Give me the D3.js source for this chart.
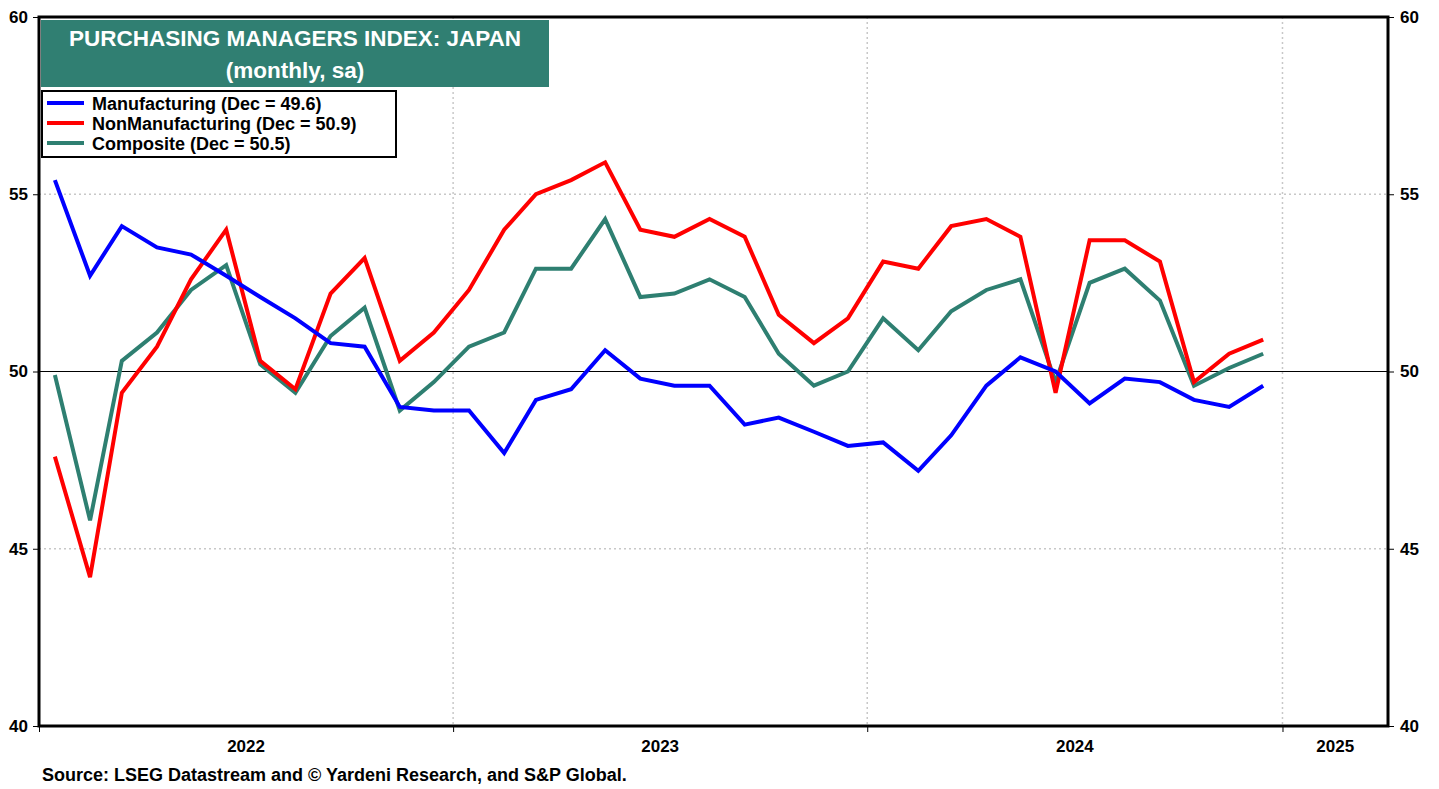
<!DOCTYPE html>
<html>
<head>
<meta charset="utf-8">
<script src="https://cdn.jsdelivr.net/npm/d3@7"></script>
<style>
  body { margin: 0; background: #fff; }
  svg { display: block; font-family: "Liberation Sans", Arial, sans-serif; font-weight: bold; }
</style>
</head>
<body>
<svg id="chart" width="1439" height="789"></svg>
<script>
// monthly, Jan 2022 .. Dec 2024
const startYear = 2022;
const manufacturing = [55.4, 52.7, 54.1, 53.5, 53.3, 52.7, 52.1, 51.5, 50.8, 50.7, 49.0, 48.9,
                       48.9, 47.7, 49.2, 49.5, 50.6, 49.8, 49.6, 49.6, 48.5, 48.7, 48.3, 47.9,
                       48.0, 47.2, 48.2, 49.6, 50.4, 50.0, 49.1, 49.8, 49.7, 49.2, 49.0, 49.6];
const nonManufacturing = [47.6, 44.2, 49.4, 50.7, 52.6, 54.0, 50.3, 49.5, 52.2, 53.2, 50.3, 51.1,
                          52.3, 54.0, 55.0, 55.4, 55.9, 54.0, 53.8, 54.3, 53.8, 51.6, 50.8, 51.5,
                          53.1, 52.9, 54.1, 54.3, 53.8, 49.4, 53.7, 53.7, 53.1, 49.7, 50.5, 50.9];
const composite = [49.9, 45.8, 50.3, 51.1, 52.3, 53.0, 50.2, 49.4, 51.0, 51.8, 48.9, 49.7,
                   50.7, 51.1, 52.9, 52.9, 54.3, 52.1, 52.2, 52.6, 52.1, 50.5, 49.6, 50.0,
                   51.5, 50.6, 51.7, 52.3, 52.6, 49.7, 52.5, 52.9, 52.0, 49.6, 50.1, 50.5];
const seriesNames = ["Manufacturing (Dec = 49.6)", "NonManufacturing (Dec = 50.9)", "Composite (Dec = 50.5)"];
const seriesColors = ["#0000ff", "#ff0000", "#2e7f71"];
const yTicks = [40, 45, 50, 55, 60];
const yearLabels = [2022, 2023, 2024, 2025];

const svg = d3.select("#chart");
const pLeft = 39, pRight = 1388, pTop = 17, pBottom = 726;

const x = d3.scaleTime()
  .domain([new Date(2022, 0, 1), new Date(2025, 3, 4)])
  .range([pLeft, pRight]);
const y = d3.scaleLinear().domain([40, 60]).range([pBottom, pTop]);

const dates = manufacturing.map((d, i) => new Date(startYear + Math.floor(i / 12), i % 12, 15));
const allSeries = [manufacturing, nonManufacturing, composite];

// grid
svg.append("g").selectAll("line")
  .data([45, 55])
  .enter().append("line")
  .attr("x1", pLeft).attr("x2", pRight)
  .attr("y1", d => y(d)).attr("y2", d => y(d))
  .attr("stroke", "#c8c8c8").attr("stroke-width", 1.5).attr("stroke-dasharray", "2,3");

svg.append("g").selectAll("line")
  .data([2023, 2024, 2025])
  .enter().append("line")
  .attr("x1", d => x(new Date(d, 0, 1))).attr("x2", d => x(new Date(d, 0, 1)))
  .attr("y1", pTop).attr("y2", pBottom)
  .attr("stroke", "#c8c8c8").attr("stroke-width", 1.5).attr("stroke-dasharray", "2,3");

// 50 line
svg.append("line")
  .attr("x1", pLeft).attr("x2", pRight)
  .attr("y1", y(50)).attr("y2", y(50))
  .attr("stroke", "#000").attr("stroke-width", 1);

// axes
const yLeft = svg.append("g")
  .attr("transform", `translate(${pLeft},0)`)
  .call(d3.axisLeft(y).tickValues(yTicks).tickSize(6).tickPadding(5));
const yRight = svg.append("g")
  .attr("transform", `translate(${pRight},0)`)
  .call(d3.axisRight(y).tickValues(yTicks).tickSize(6).tickPadding(6));
const xAxis = svg.append("g")
  .attr("transform", `translate(0,${pBottom})`)
  .call(d3.axisBottom(x).tickValues(yearLabels.map(d => new Date(d, 0, 1))).tickSize(6).tickFormat(""));

[yLeft, yRight, xAxis].forEach(g => {
  g.select(".domain").remove();
  g.selectAll(".tick line").attr("stroke", "#000").attr("stroke-width", 1);
  g.selectAll("text").attr("font-size", 17).attr("font-weight", "bold")
    .attr("font-family", "Liberation Sans, Arial, sans-serif").attr("fill", "#000");
});

// year labels centred in each year
svg.append("g").selectAll("text")
  .data(yearLabels)
  .enter().append("text")
  .attr("x", d => {
    const a = x(new Date(d, 0, 1));
    const b = Math.min(x(new Date(d + 1, 0, 1)), pRight);
    return (a + b) / 2;
  })
  .attr("y", 752)
  .attr("text-anchor", "middle")
  .attr("font-size", 17)
  .text(d => d);

// lines
const line = d3.line()
  .x((d, i) => x(dates[i]))
  .y(d => y(d));

svg.append("g").selectAll("path")
  .data([composite, nonManufacturing, manufacturing])
  .enter().append("path")
  .attr("d", line)
  .attr("fill", "none")
  .attr("stroke", d => seriesColors[allSeries.indexOf(d)])
  .attr("stroke-width", 4)
  .attr("stroke-linejoin", "miter");

// frame
svg.append("rect")
  .attr("x", pLeft).attr("y", pTop)
  .attr("width", pRight - pLeft).attr("height", pBottom - pTop)
  .attr("fill", "none").attr("stroke", "#000").attr("stroke-width", 3);

// title box
svg.append("rect")
  .attr("x", 41).attr("y", 20).attr("width", 508).attr("height", 67)
  .attr("fill", "#307f72");
svg.append("text")
  .attr("x", 295).attr("y", 46)
  .attr("text-anchor", "middle").attr("fill", "#fff").attr("font-size", 22.5)
  .text("PURCHASING MANAGERS INDEX: JAPAN");
svg.append("text")
  .attr("x", 295).attr("y", 78)
  .attr("text-anchor", "middle").attr("fill", "#fff").attr("font-size", 22.5)
  .text("(monthly, sa)");

// legend
svg.append("rect")
  .attr("x", 42).attr("y", 91).attr("width", 354).attr("height", 66)
  .attr("fill", "#fff").attr("stroke", "#000").attr("stroke-width", 2);

const legend = svg.append("g").selectAll("g")
  .data(seriesNames)
  .enter().append("g")
  .attr("transform", (d, i) => `translate(0,${103 + i * 20})`);
legend.append("line")
  .attr("x1", 47).attr("x2", 84)
  .attr("stroke", (d, i) => seriesColors[i]).attr("stroke-width", 4);
legend.append("text")
  .attr("x", 92).attr("y", 6.5)
  .attr("font-size", 18)
  .text(d => d);

// source
svg.append("text")
  .attr("x", 42).attr("y", 781)
  .attr("font-size", 18)
  .text("Source: LSEG Datastream and © Yardeni Research, and S&P Global.");
</script>
</body>
</html>
